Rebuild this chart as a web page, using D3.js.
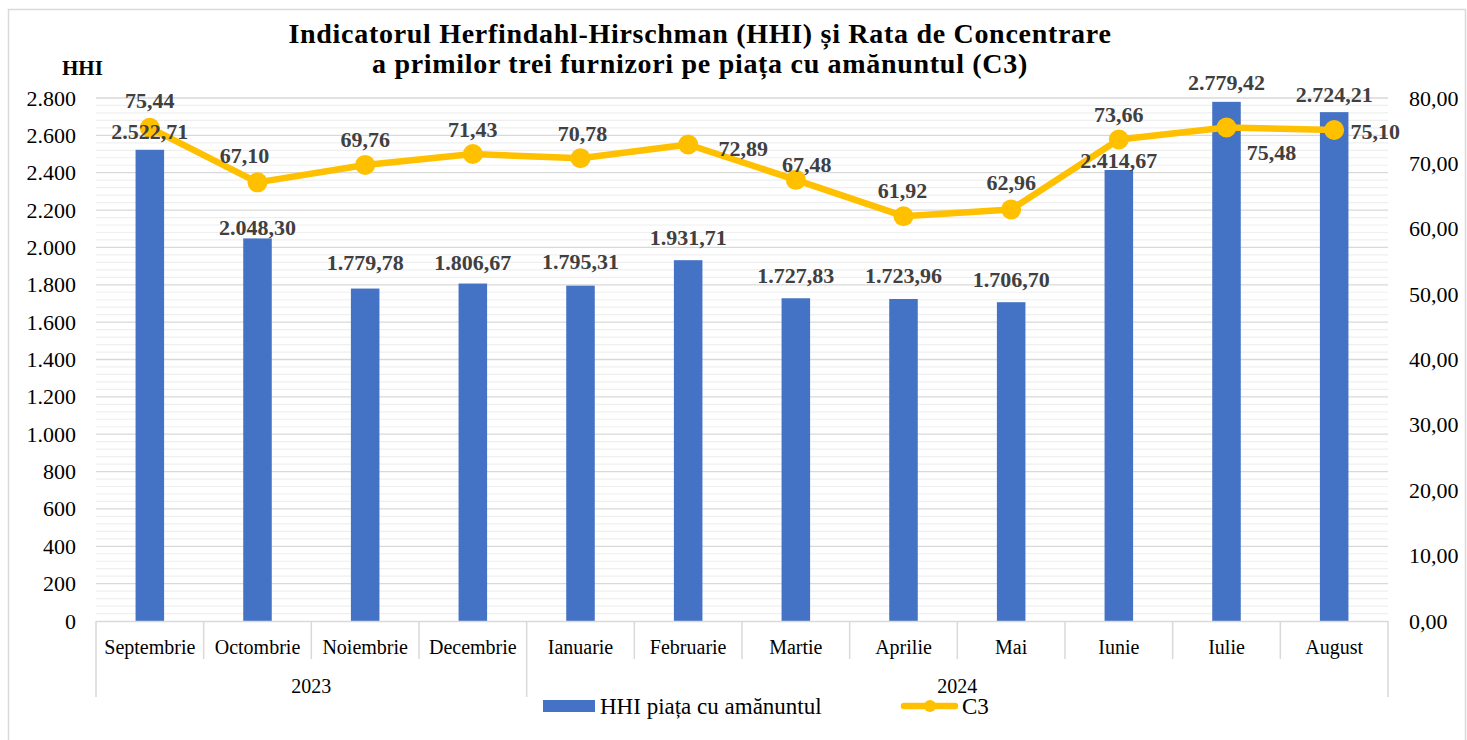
<!DOCTYPE html>
<html>
<head>
<meta charset="utf-8">
<script src="https://cdn.jsdelivr.net/npm/d3@7"></script>
<style>
  body { margin: 0; background: #fff; }
  svg text { font-family: "Liberation Serif", "Times New Roman", serif; }
</style>
</head>
<body>
<div id="chart"></div>
<script>
// Data
var months = ["Septembrie", "Octombrie", "Noiembrie", "Decembrie", "Ianuarie", "Februarie",
  "Martie", "Aprilie", "Mai", "Iunie", "Iulie", "August"];
var monthYears = ["2023", "2023", "2023", "2023", "2024", "2024",
  "2024", "2024", "2024", "2024", "2024", "2024"];
var hhiValues = [2522.71, 2048.30, 1779.78, 1806.67, 1795.31, 1931.71,
  1727.83, 1723.96, 1706.70, 2414.67, 2779.42, 2724.21];
var c3Values = [75.44, 67.10, 69.76, 71.43, 70.78, 72.89,
  67.48, 61.92, 62.96, 73.66, 75.48, 75.10];
var leftTicks = [0, 200, 400, 600, 800, 1000, 1200, 1400, 1600, 1800, 2000, 2200, 2400, 2600, 2800];
var rightTicks = [0, 10, 20, 30, 40, 50, 60, 70, 80];
var titleLines = ["Indicatorul Herfindahl-Hirschman (HHI) și Rata de Concentrare",
  "a primilor trei furnizori pe piața cu amănuntul (C3)"];
var seriesNames = ["HHI piața cu amănuntul", "C3"];

// label nudges (pixels), the labels were moved by hand in the original
var hhiLabelDy = [-18, -11, -26, -21, -24, -23, -23, -24, -23, -10, -20, -18];
var c3LabelOff = [[0, -28], [-13, -27], [0, -26], [0, -25], [2, -25], [55, 4],
  [11, -16], [-1, -26], [0, -27], [0, -25], [45, 25], [41, 1]];

var svgWidth = 1467;
var svgHeight = 740;
var plot = { left: 96, right: 1388, top: 98, bottom: 621 };

var barColor = "#4472C4";
var lineColor = "#FFC000";
var gridMajor = "#d9d9d9";
var gridMinor = "#efefef";
var labelColor = "#404040";

// Romanian number format: 2.800 / 80,00
var ro = d3.formatLocale({ decimal: ",", thousands: ".", grouping: [3], currency: ["", ""] });
var fmtInt = ro.format(",.0f");
var fmtDec = ro.format(",.2f");

var svg = d3
  .select("#chart")
  .append("svg")
  .attr("width", svgWidth)
  .attr("height", svgHeight);

// chart border
svg.append("rect")
  .attr("x", 8.5)
  .attr("y", 9.5)
  .attr("width", 1457)
  .attr("height", 740)
  .attr("fill", "none")
  .attr("stroke", gridMajor)
  .attr("stroke-width", 1.5);

// scales
var xScale = d3.scaleBand()
  .domain(months)
  .range([plot.left, plot.right])
  .padding(0);
var barW = xScale.bandwidth() * 0.265;

var yLeft = d3.scaleLinear()
  .domain([0, 2800])
  .range([plot.bottom, plot.top]);
var yRight = d3.scaleLinear()
  .domain([0, 80])
  .range([plot.bottom, plot.top]);

// minor gridlines every 40, major every 200
var minorTicks = d3.range(0, 2800, 40).filter(function(v) { return v % 200 !== 0; });
svg.append("g")
  .selectAll("line")
  .data(minorTicks)
  .enter()
  .append("line")
  .attr("x1", plot.left)
  .attr("x2", plot.right)
  .attr("y1", function(d) { return yLeft(d); })
  .attr("y2", function(d) { return yLeft(d); })
  .attr("stroke", gridMinor)
  .attr("stroke-width", 1.2);

svg.append("g")
  .selectAll("line")
  .data(leftTicks.slice(1))
  .enter()
  .append("line")
  .attr("x1", plot.left)
  .attr("x2", plot.right)
  .attr("y1", function(d) { return yLeft(d); })
  .attr("y2", function(d) { return yLeft(d); })
  .attr("stroke", gridMajor)
  .attr("stroke-width", 1.3);

// left axis (labels only)
var leftAxis = d3.axisLeft(yLeft)
  .tickValues(leftTicks)
  .tickFormat(fmtInt)
  .tickSize(0)
  .tickPadding(0);
var gLeft = svg.append("g")
  .attr("transform", "translate(76,0)")
  .call(leftAxis);
gLeft.select(".domain").remove();
gLeft.selectAll("text")
  .attr("font-family", "Liberation Serif")
  .attr("font-size", 22)
  .attr("fill", "#000");

// right axis
var rightAxis = d3.axisRight(yRight)
  .tickValues(rightTicks)
  .tickFormat(fmtDec)
  .tickSize(0)
  .tickPadding(0);
var gRight = svg.append("g")
  .attr("transform", "translate(1409,0)")
  .call(rightAxis);
gRight.select(".domain").remove();
gRight.selectAll("text")
  .attr("font-family", "Liberation Serif")
  .attr("font-size", 22)
  .attr("fill", "#000");

// bars
svg.append("g")
  .selectAll("rect")
  .data(hhiValues)
  .enter()
  .append("rect")
  .attr("x", function(d, i) { return xScale(months[i]) + xScale.bandwidth() / 2 - barW / 2; })
  .attr("y", function(d) { return yLeft(d); })
  .attr("width", barW)
  .attr("height", function(d) { return plot.bottom - yLeft(d); })
  .attr("fill", barColor);

// category axis: baseline, separators, month and year labels
svg.append("line")
  .attr("x1", plot.left)
  .attr("x2", plot.right)
  .attr("y1", plot.bottom + 0.5)
  .attr("y2", plot.bottom + 0.5)
  .attr("stroke", gridMajor)
  .attr("stroke-width", 1.5);

var sepX = months.map(function(m) { return xScale(m); }).concat([plot.right]);
svg.append("g")
  .selectAll("line")
  .data(sepX)
  .enter()
  .append("line")
  .attr("x1", function(d) { return d; })
  .attr("x2", function(d) { return d; })
  .attr("y1", plot.bottom)
  .attr("y2", function(d, i) {
    // year boundaries run down through the year row
    var isYearEdge = i === 0 || i === months.length || monthYears[i] !== monthYears[i - 1];
    return isYearEdge ? 697 : 659;
  })
  .attr("stroke", gridMajor)
  .attr("stroke-width", 1.5);

svg.append("g")
  .selectAll("text")
  .data(months)
  .enter()
  .append("text")
  .attr("x", function(d) { return xScale(d) + xScale.bandwidth() / 2; })
  .attr("y", 647)
  .attr("dy", "0.35em")
  .attr("text-anchor", "middle")
  .attr("font-size", 20)
  .text(function(d) { return d; });

var years = Array.from(new Set(monthYears));
svg.append("g")
  .selectAll("text")
  .data(years)
  .enter()
  .append("text")
  .attr("x", function(y) {
    var idx = monthYears.map(function(v, i) { return v === y ? i : -1; }).filter(function(i) { return i >= 0; });
    var x0 = xScale(months[idx[0]]);
    var x1 = xScale(months[idx[idx.length - 1]]) + xScale.bandwidth();
    return (x0 + x1) / 2;
  })
  .attr("y", 686)
  .attr("dy", "0.35em")
  .attr("text-anchor", "middle")
  .attr("font-size", 20)
  .text(function(d) { return d; });

// C3 line with markers
var line = d3.line()
  .x(function(d, i) { return xScale(months[i]) + xScale.bandwidth() / 2; })
  .y(function(d) { return yRight(d); });

svg.append("path")
  .datum(c3Values)
  .attr("d", line)
  .attr("fill", "none")
  .attr("stroke", lineColor)
  .attr("stroke-width", 6.5)
  .attr("stroke-linejoin", "round");

svg.append("g")
  .selectAll("circle")
  .data(c3Values)
  .enter()
  .append("circle")
  .attr("cx", function(d, i) { return xScale(months[i]) + xScale.bandwidth() / 2; })
  .attr("cy", function(d) { return yRight(d); })
  .attr("r", 10)
  .attr("fill", lineColor);

// data labels for bars
svg.append("g")
  .selectAll("text")
  .data(hhiValues)
  .enter()
  .append("text")
  .attr("x", function(d, i) { return xScale(months[i]) + xScale.bandwidth() / 2; })
  .attr("y", function(d, i) { return yLeft(d) + hhiLabelDy[i]; })
  .attr("dy", "0.35em")
  .attr("text-anchor", "middle")
  .attr("font-size", 22)
  .attr("font-weight", "bold")
  .attr("fill", labelColor)
  .text(function(d) { return fmtDec(d); });

// data labels for C3
svg.append("g")
  .selectAll("text")
  .data(c3Values)
  .enter()
  .append("text")
  .attr("x", function(d, i) { return xScale(months[i]) + xScale.bandwidth() / 2 + c3LabelOff[i][0]; })
  .attr("y", function(d, i) { return yRight(d) + c3LabelOff[i][1]; })
  .attr("dy", "0.35em")
  .attr("text-anchor", "middle")
  .attr("font-size", 22)
  .attr("font-weight", "bold")
  .attr("fill", labelColor)
  .text(function(d) { return fmtDec(d); });

// title (the original is set a bit loose)
svg.append("g")
  .selectAll("text")
  .data(titleLines)
  .enter()
  .append("text")
  .attr("x", 700)
  .attr("y", function(d, i) { return 43 + i * 30; })
  .attr("text-anchor", "middle")
  .attr("font-size", 28)
  .attr("letter-spacing", 0.7)
  .attr("font-weight", "bold")
  .attr("fill", "#000")
  .text(function(d) { return d; });

// left axis title
svg.append("text")
  .attr("x", 62)
  .attr("y", 75)
  .attr("font-size", 21)
  .attr("font-weight", "bold")
  .text("HHI");

// legend
var legend = svg.append("g");
legend.append("rect")
  .attr("x", 543)
  .attr("y", 700)
  .attr("width", 52)
  .attr("height", 12)
  .attr("fill", barColor);
legend.append("text")
  .attr("x", 600)
  .attr("y", 706)
  .attr("dy", "0.35em")
  .attr("font-size", 23)
  .text(seriesNames[0]);
legend.append("line")
  .attr("x1", 904)
  .attr("x2", 955)
  .attr("y1", 706)
  .attr("y2", 706)
  .attr("stroke", lineColor)
  .attr("stroke-width", 6.5)
  .attr("stroke-linecap", "round");
legend.append("circle")
  .attr("cx", 930)
  .attr("cy", 706)
  .attr("r", 6)
  .attr("fill", lineColor);
legend.append("text")
  .attr("x", 962)
  .attr("y", 706)
  .attr("dy", "0.35em")
  .attr("font-size", 23)
  .text(seriesNames[1]);
</script>
</body>
</html>
